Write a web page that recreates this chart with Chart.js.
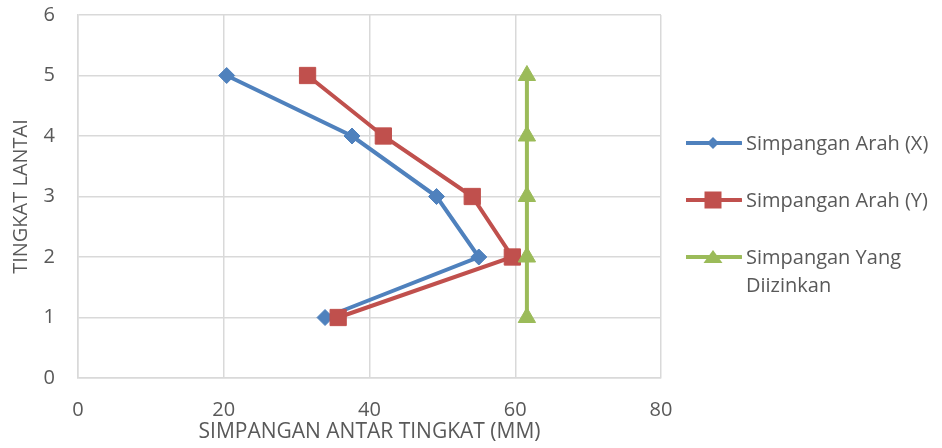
<!DOCTYPE html>
<html>
<head>
<meta charset="utf-8">
<script src="https://cdn.jsdelivr.net/npm/chart.js@4.4.1/dist/chart.umd.min.js"></script>
<style>
  body { margin: 0; background: #fff; }
  #wrap { position: relative; width: 942px; height: 448px; }
  .leg { position: absolute; left: 686px; font-family: "Open Sans", sans-serif; font-size: 20px; color: #595959; line-height: 28px; }
  .leg svg { position: absolute; left: 0; top: 0; }
  .leg span { position: absolute; left: 60px; top: 0; white-space: nowrap; }
</style>
</head>
<body>
<div id="wrap">
  <canvas id="driftChart" width="942" height="448"></canvas>
  <div id="legend"></div>
</div>
<script>
// Simpangan antar tingkat per lantai
const floors = [5, 4, 3, 2, 1];
const driftX = [20.4, 37.6, 49.2, 55.0, 33.9];
const driftY = [31.5, 41.9, 54.1, 59.6, 35.7];
const driftAllowed = [61.6, 61.6, 61.6, 61.6, 61.6];
const xTicks = [0, 20, 40, 60, 80];
const yTicks = [0, 1, 2, 3, 4, 5, 6];
const seriesNames = ['Simpangan Arah (X)', 'Simpangan Arah (Y)', 'Simpangan Yang Diizinkan'];

const colors = {
    blue: '#4f81bd',
    red: '#c0504d',
    green: '#9bbb59',
    grid: '#d9d9d9',
    text: '#595959'
};

function toPoints(values) {
    return values.map((v, i) => ({ x: v, y: floors[i] }));
}

function makeSet(label, values, color, style, radius, order) {
    return {
        label: label,
        data: toPoints(values),
        showLine: true,
        borderColor: color,
        backgroundColor: color,
        borderWidth: 4,
        pointStyle: style,
        pointRadius: radius,
        pointHoverRadius: radius,
        pointBorderWidth: 1,
        pointBackgroundColor: color,
        pointBorderColor: color,
        order: order
    };
}

const ctx = document.getElementById('driftChart').getContext('2d');
new Chart(ctx, {
    type: 'scatter',
    data: {
        datasets: [
            makeSet(seriesNames[0], driftX, colors.blue, 'rectRot', 8, 3),
            makeSet(seriesNames[1], driftY, colors.red, 'rect', 11.5, 2),
            makeSet(seriesNames[2], driftAllowed, colors.green, 'triangle', 10, 1)
        ]
    },
    options: {
        responsive: false,
        animation: false,
        layout: { padding: { left: 0, right: 281, top: 15, bottom: 0 } },
        plugins: { legend: { display: false }, tooltip: { enabled: false } },
        scales: {
            x: {
                type: 'linear',
                min: 0, max: 80,
                afterBuildTicks: s => { s.ticks = xTicks.map(v => ({ value: v })); },
                afterFit: s => { s.height = 70; s.paddingLeft = 0; s.paddingRight = 0; },
                grid: { color: colors.grid, lineWidth: 1.5, drawTicks: false },
                border: { color: colors.grid, width: 1.5 },
                ticks: { color: colors.text, padding: 20, font: { family: 'Open Sans', size: 20 } },
                title: {
                    display: true,
                    text: 'SIMPANGAN ANTAR TINGKAT (MM)',
                    color: colors.text,
                    padding: { top: 0, bottom: 3 },
                    font: { family: 'Open Sans', size: 21 }
                }
            },
            y: {
                type: 'linear',
                min: 0, max: 6,
                afterBuildTicks: s => { s.ticks = yTicks.map(v => ({ value: v })); },
                afterFit: s => { s.width = 78; s.paddingTop = 0; s.paddingBottom = 0; },
                grid: { color: colors.grid, lineWidth: 1.5, drawTicks: false },
                border: { color: colors.grid, width: 1.5 },
                ticks: { color: colors.text, padding: 23, font: { family: 'Open Sans', size: 20 } },
                title: {
                    display: true,
                    text: 'TINGKAT LANTAI',
                    color: colors.text,
                    padding: { top: 9, bottom: 0 },
                    font: { family: 'Open Sans', size: 20 }
                }
            }
        }
    }
});

// Legend on the right (HTML, so the last label can wrap)
const legendItems = [
    { text: 'Simpangan Arah (X)', color: colors.blue, top: 129,
      marker: '<polygon points="27,8 33,14 27,20 21,14" />' },
    { text: 'Simpangan Arah (Y)', color: colors.red, top: 186,
      marker: '<rect x="18.5" y="5.5" width="17" height="17" />' },
    { text: 'Simpangan Yang<br>Diizinkan', color: colors.green, top: 243,
      marker: '<polygon points="27,7 36.5,20 17.5,20" />' }
];
const legendEl = document.getElementById('legend');
legendItems.forEach(item => {
    const d = document.createElement('div');
    d.className = 'leg';
    d.style.top = item.top + 'px';
    d.innerHTML = '<svg width="56" height="28"><line x1="0" y1="14" x2="55" y2="14" stroke="' + item.color +
        '" stroke-width="4" stroke-linecap="round"/><g fill="' + item.color + '">' + item.marker + '</g></svg>' +
        '<span>' + item.text + '</span>';
    legendEl.appendChild(d);
});
</script>
</body>
</html>
